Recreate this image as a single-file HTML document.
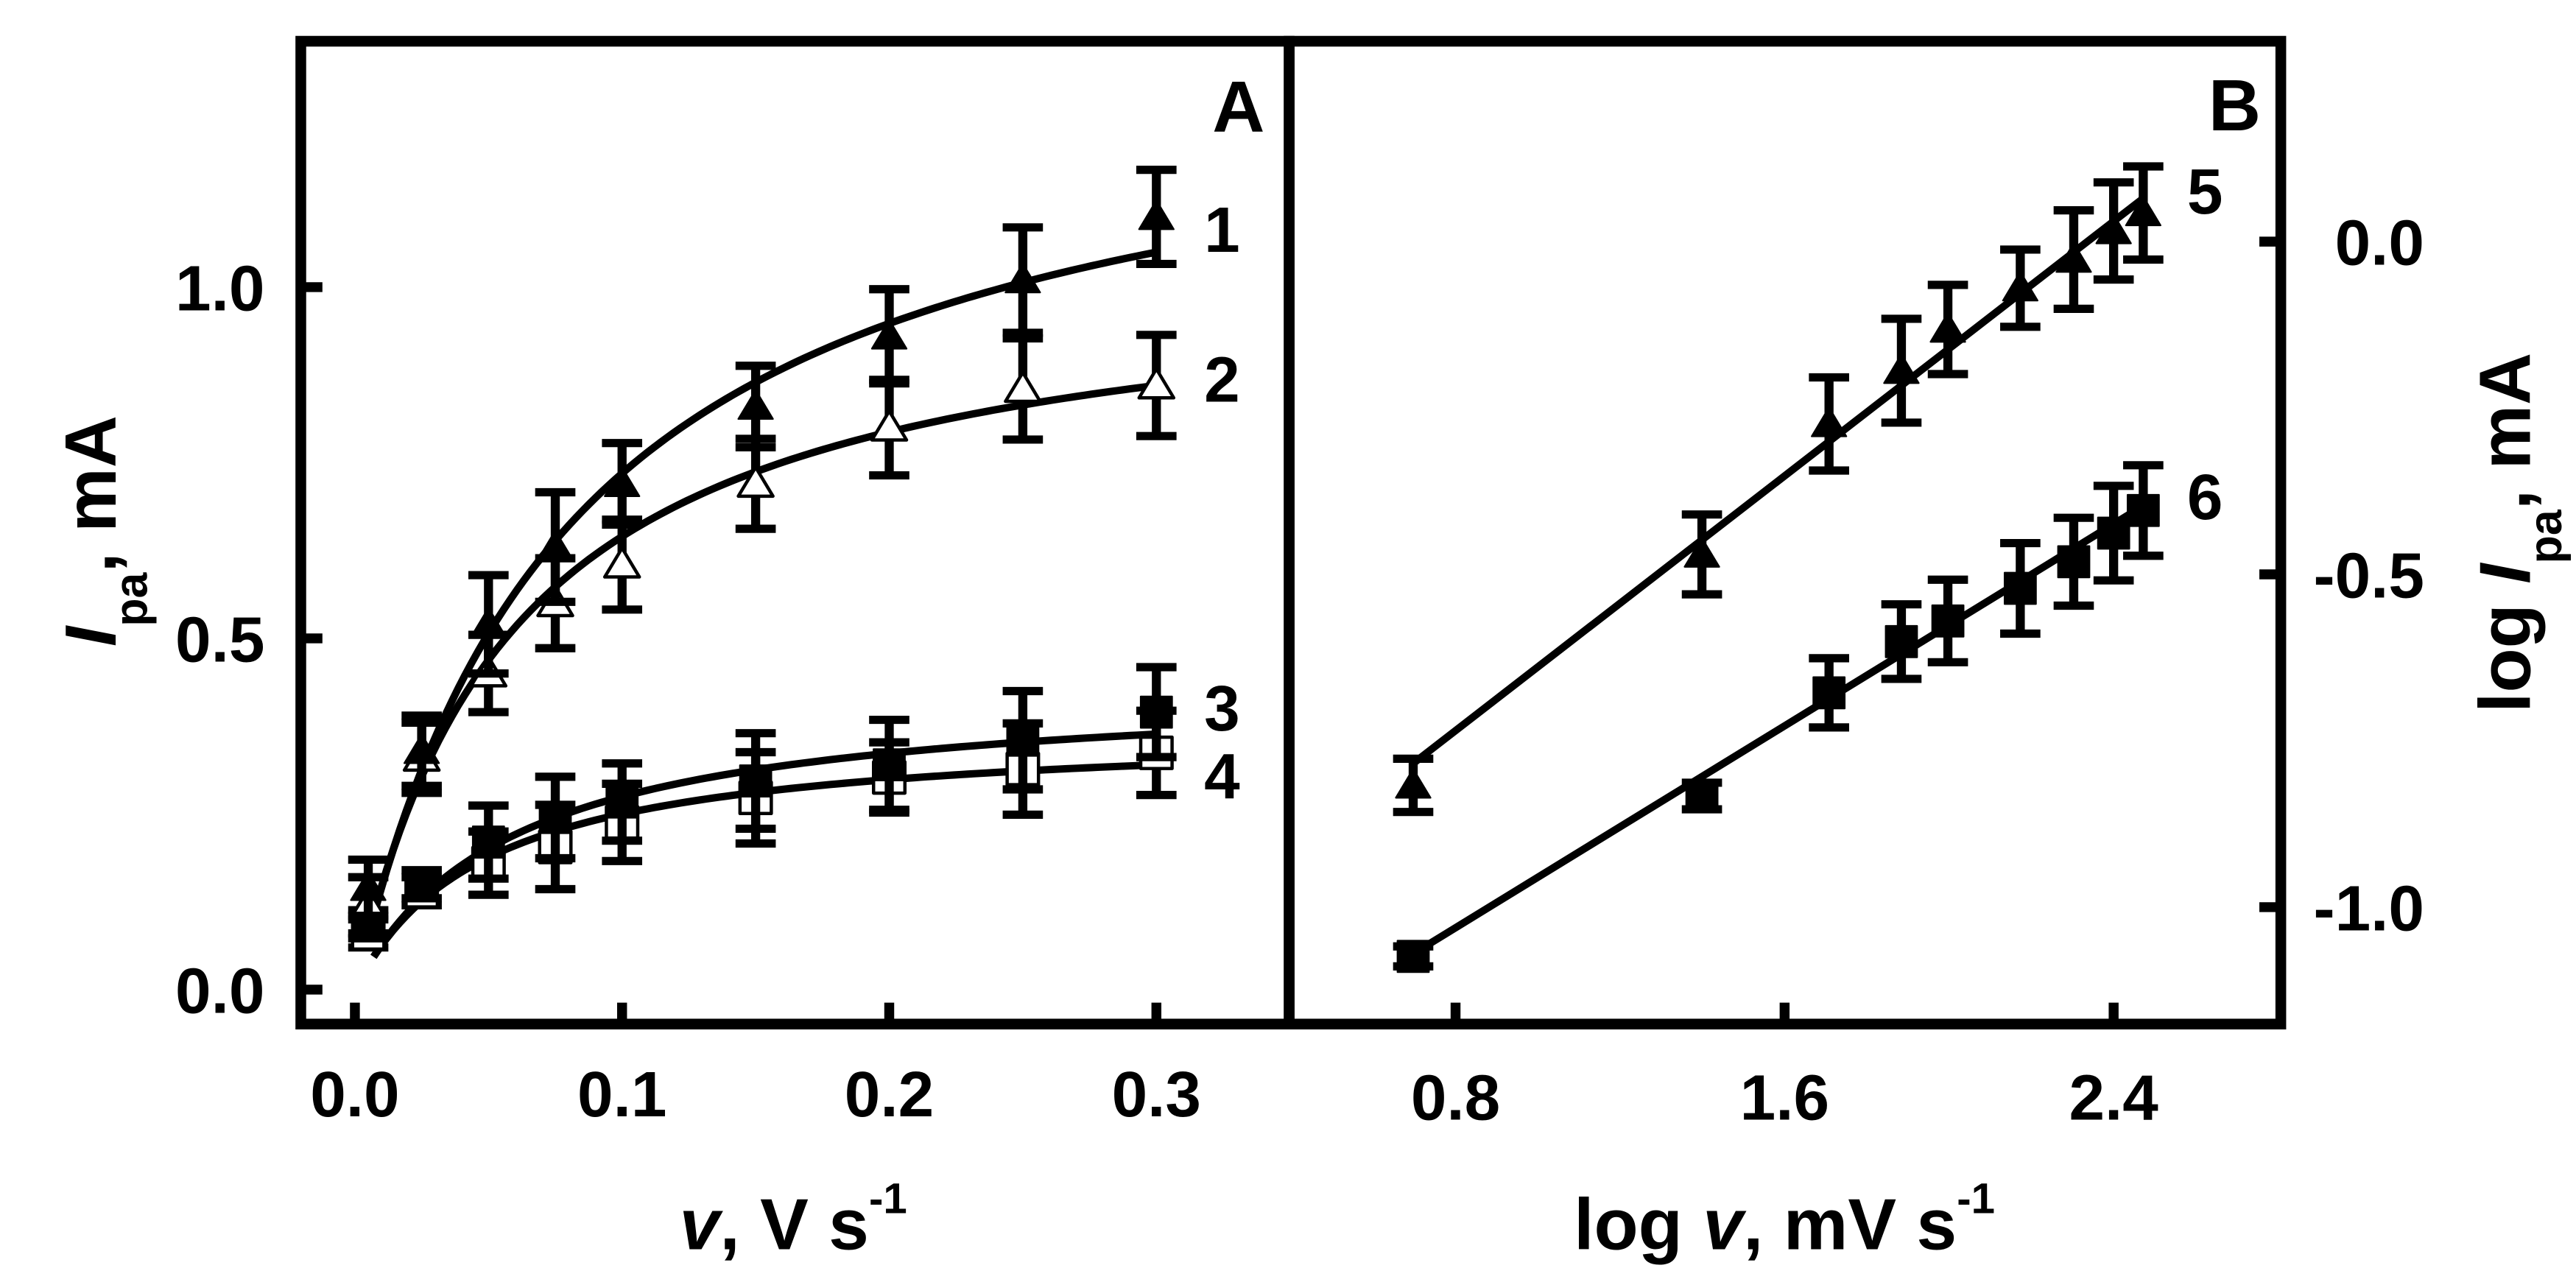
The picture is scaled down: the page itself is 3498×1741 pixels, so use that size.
<!DOCTYPE html>
<html><head><meta charset="utf-8"><style>
html,body{margin:0;padding:0;background:#fff}
svg{display:block}
text{font-family:"Liberation Sans",Arial,sans-serif;font-weight:bold;fill:#000}
</style></head><body>
<svg id="chart" width="3498" height="1741" viewBox="0 0 1562 777.4" xmlns="http://www.w3.org/2000/svg">
<g id="frames">
<rect x="182.4" y="25" width="599.3" height="596" fill="none" stroke="#000" stroke-width="6.5"/>
<rect x="781.7" y="25" width="601.3" height="596" fill="none" stroke="#000" stroke-width="6.5"/>
</g>
<g id="axes"></g>
<g id="marks"></g>
<text x="751" y="80" font-size="44" text-anchor="middle">A</text>
<text x="1355" y="79" font-size="44" text-anchor="middle">B</text>
<text x="481" y="757.6" font-size="44" text-anchor="middle"><tspan font-style="italic">v</tspan>, V s<tspan dy="-22" font-size="26">-1</tspan></text>
<text x="1082" y="757.6" font-size="44" text-anchor="middle">log <tspan font-style="italic">v</tspan>, mV s<tspan dy="-22" font-size="26">-1</tspan></text>
<text transform="translate(70,322) rotate(-90)" font-size="44" text-anchor="middle"><tspan font-style="italic">I</tspan><tspan dy="19" font-size="28">pa</tspan><tspan dy="-19">, mA</tspan></text>
<text transform="translate(1534,323) rotate(-90)" font-size="44" text-anchor="middle">log <tspan font-style="italic">I</tspan><tspan dy="19" font-size="28">pa</tspan><tspan dy="-19">, mA</tspan></text>
</svg>
<script>
// Panel A data
const xA = [0.005, 0.025, 0.05, 0.075, 0.1, 0.15, 0.2, 0.25, 0.3];
const s1 = [0.145, 0.34, 0.52, 0.63, 0.72, 0.83, 0.93, 1.01, 1.10];
const e1 = [0.04, 0.05, 0.07, 0.078, 0.058, 0.058, 0.067, 0.075, 0.067];
const s2 = [0.12, 0.33, 0.45, 0.55, 0.605, 0.72, 0.80, 0.855, 0.86];
const e2 = [0.04, 0.05, 0.055, 0.064, 0.064, 0.064, 0.068, 0.072, 0.072];
const s3 = [0.093, 0.15, 0.21, 0.245, 0.267, 0.297, 0.32, 0.355, 0.395];
const e3 = [0.02, 0.02, 0.052, 0.058, 0.055, 0.068, 0.064, 0.07, 0.064];
const s4 = [0.08, 0.14, 0.18, 0.203, 0.238, 0.273, 0.302, 0.314, 0.337];
const e4 = [0.02, 0.02, 0.045, 0.06, 0.055, 0.065, 0.05, 0.065, 0.06];
const fitA = [1.336, 1.032, 0.434, 0.372];
const fitB = [0.0818, 0.06, 0.058, 0.0488];
const xTicksA = [0.0, 0.1, 0.2, 0.3];
const xTickLabelsA = ["0.0", "0.1", "0.2", "0.3"];
const yTicksA = [0.0, 0.5, 1.0];
const yTickLabelsA = ["0.0", "0.5", "1.0"];
// Panel B data
const xB = [0.697, 1.399, 1.708, 1.884, 1.997, 2.173, 2.303, 2.4, 2.472];
const s5 = [-0.817, -0.47, -0.274, -0.194, -0.132, -0.07, -0.027, 0.016, 0.043];
const e5 = [0.04, 0.06, 0.07, 0.078, 0.067, 0.058, 0.074, 0.073, 0.07];
const s6 = [-1.074, -0.833, -0.678, -0.601, -0.57, -0.521, -0.481, -0.438, -0.404];
const e6 = [0.015, 0.02, 0.052, 0.056, 0.062, 0.068, 0.066, 0.071, 0.068];
const line5 = [-0.784, 0.065];
const line6 = [-1.07, -0.397];
const xTicksB = [0.8, 1.6, 2.4];
const xTickLabelsB = ["0.8", "1.6", "2.4"];
const yTicksB = [0.0, -0.5, -1.0];
const yTickLabelsB = ["0.0", "-0.5", "-1.0"];

const NS = "http://www.w3.org/2000/svg";
const axA_x = v => 215.2 + v * 1620;
const axA_y = v => 600.1 - v * 426;
const axB_x = v => 882.6 + (v - 0.8) * 249.4;
const axB_y = v => 146.5 - v * 403.6;
const axes = document.getElementById('axes');
const marks = document.getElementById('marks');
function mk(tag, attrs, parent) {
  const el = document.createElementNS(NS, tag);
  for (const k in attrs) el.setAttribute(k, attrs[k]);
  parent.appendChild(el);
  return el;
}
xTicksA.forEach((t, i) => {
  const x = axA_x(t);
  const tk = mk('line', {x1: x, x2: x, y1: 621, y2: 608, stroke: '#000', 'stroke-width': 6}, axes);
  
  
  const tx = mk('text', {x: x, y: 677, 'font-size': 39, 'text-anchor': 'middle'}, axes);
  tx.textContent = xTickLabelsA[i];
  
  
});
yTicksA.forEach((t, i) => {
  const y = axA_y(t);
  const tk = mk('line', {x1: 182.4, x2: 195.5, y1: y, y2: y, stroke: '#000', 'stroke-width': 6}, axes);
  
  
  const tx = mk('text', {x: 160.5, y: y + 14, 'font-size': 39, 'text-anchor': 'end'}, axes);
  tx.textContent = yTickLabelsA[i];
  
  
});
xTicksB.forEach((t, i) => {
  const x = axB_x(t);
  const tk = mk('line', {x1: x, x2: x, y1: 621, y2: 608, stroke: '#000', 'stroke-width': 6}, axes);
  
  
  const tx = mk('text', {x: x, y: 679, 'font-size': 39, 'text-anchor': 'middle'}, axes);
  tx.textContent = xTickLabelsB[i];
  
  
});
yTicksB.forEach((t, i) => {
  const y = axB_y(t);
  const tk = mk('line', {x1: 1383, x2: 1370, y1: y, y2: y, stroke: '#000', 'stroke-width': 6}, axes);
  
  
  const tx = mk('text', {x: 1470, y: y + 14, 'font-size': 39, 'text-anchor': 'end'}, axes);
  tx.textContent = yTickLabelsB[i];
  
  
});
fitA.forEach((a, k) => {
  const b = fitB[k];
  let d = '';
  for (let i = 0; i <= 120; i++) {
    const x = 0.007 + (0.3 - 0.007) * i / 120;
    const y = a * x / (b + x);
    d += (i ? 'L' : 'M') + axA_x(x).toFixed(2) + ' ' + axA_y(y).toFixed(2);
  }
  const p = mk('path', {d: d, fill: 'none', stroke: '#000', 'stroke-width': 4.5}, marks);
  
  
});
[[line5, 5], [line6, 6]].forEach(([ln, n]) => {
  const l = mk('line', {x1: axB_x(xB[0]), y1: axB_y(ln[0]), x2: axB_x(xB[xB.length - 1]), y2: axB_y(ln[1]), stroke: '#000', 'stroke-width': 4.5}, marks);
  
  
});
function errbar(x, y1, y2) {
  const g = mk('g', {stroke: '#000', 'stroke-width': 5.5}, marks);
  
  
  mk('line', {x1: x, x2: x, y1: y1, y2: y2}, g);
  mk('line', {x1: x - 12.2, x2: x + 12.2, y1: y1, y2: y1, 'stroke-width': 5}, g);
  mk('line', {x1: x - 12.2, x2: x + 12.2, y1: y2, y2: y2, 'stroke-width': 5}, g);
}
function marker(kind, filled, x, y, name) {
  let el;
  if (kind === 'tri') {
    el = mk('polygon', {points: `${x},${y - 10} ${x - 10.5},${y + 7.5} ${x + 10.5},${y + 7.5}`}, marks);
  } else {
    el = mk('rect', {x: x - 9.5, y: y - 9.5, width: 19, height: 19}, marks);
  }
  el.setAttribute('fill', filled ? '#000' : '#fff');
  el.setAttribute('stroke', '#000');
  el.setAttribute('stroke-width', filled ? 1 : 2);
  el.setAttribute('stroke-linejoin', 'round');
  
  
}
function series(xs, ys, es, fx, fy, kind, filled, name) {
  xs.forEach((xv, i) => {
    const x = fx(xv), y = fy(ys[i]);
    errbar(x, fy(ys[i] + es[i]), fy(ys[i] - es[i]));
    marker(kind, filled, x, y, name);
  });
}
series(xA, s4, e4, axA_x, axA_y, 'sq', false, 'series-4-point');
series(xA, s3, e3, axA_x, axA_y, 'sq', true, 'series-3-point');
series(xA, s2, e2, axA_x, axA_y, 'tri', false, 'series-2-point');
series(xA, s1, e1, axA_x, axA_y, 'tri', true, 'series-1-point');
series(xB, s5, e5, axB_x, axB_y, 'tri', true, 'series-5-point');
series(xB, s6, e6, axB_x, axB_y, 'sq', true, 'series-6-point');
[['1', 741, 152.7], ['2', 741, 243.5], ['3', 741, 443], ['4', 741, 484], ['5', 1337, 129.6], ['6', 1337, 314.9]].forEach(([t, x, y]) => {
  const tx = mk('text', {x: x, y: y, 'font-size': 39, 'text-anchor': 'middle'}, marks);
  tx.textContent = t;
  
  
});
</script>
</body></html>
